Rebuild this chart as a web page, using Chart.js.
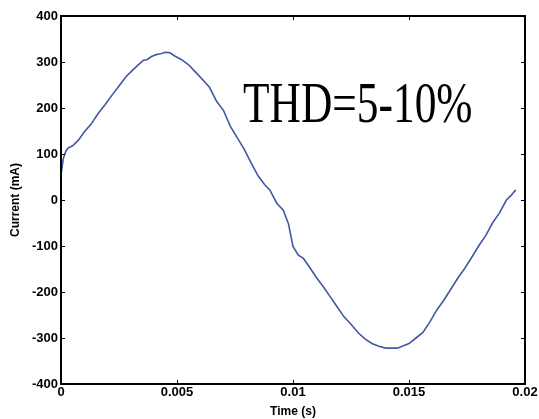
<!DOCTYPE html>
<html>
<head>
<meta charset="utf-8">
<script src="https://cdn.jsdelivr.net/npm/chart.js@4/dist/chart.umd.min.js"></script>
<style>
  html, body { margin: 0; padding: 0; background: #fff; }
  #wrap { width: 539px; height: 419px; }
</style>
</head>
<body>
<div id="wrap"><canvas id="chart"></canvas></div>
<script>
// time (s) and current (mA)
const timeValues = [
  0.0000, 0.0001, 0.0002, 0.0003, 0.0005, 0.00075, 0.0010, 0.0013, 0.0016, 0.0019,
  0.0022, 0.0025, 0.0028, 0.0031, 0.0034, 0.00355, 0.0037, 0.0039, 0.0041, 0.0043,
  0.0045, 0.0047, 0.0049, 0.0052, 0.0055, 0.0058, 0.0061, 0.0064, 0.0067, 0.0070,
  0.0073, 0.0076, 0.0079, 0.0082, 0.0085, 0.0088, 0.0090, 0.0093, 0.00958, 0.0098,
  0.0100, 0.01023, 0.01045, 0.0107, 0.0110, 0.0113, 0.0116, 0.0119, 0.0122, 0.0125,
  0.0128, 0.0131, 0.0134, 0.0137, 0.0140, 0.0145, 0.0150, 0.0153, 0.0156, 0.0159,
  0.0162, 0.0165, 0.0168, 0.0171, 0.0174, 0.0177, 0.0180, 0.0183, 0.0186, 0.0189,
  0.0192, 0.0194, 0.0196
];
const currentValues = [
  55, 90, 105, 113, 118, 130, 148, 165, 188, 207,
  228, 248, 268, 283, 297, 304, 305, 312, 316, 318,
  321, 320, 313, 305, 294, 278, 262, 245, 215, 195,
  160, 135, 110, 80, 52, 32, 22, -7, -22, -51,
  -101, -120, -127, -145, -168, -188, -210, -232, -254, -270,
  -288, -302, -312, -318, -322, -322, -312, -300, -288, -265,
  -239, -218, -194, -170, -149, -125, -100, -78, -50, -28,
  0, 10, 22
];
const xTickValues = [0, 0.005, 0.01, 0.015, 0.02];
const xTickLabels = ['0', '0.005', '0.01', '0.015', '0.02'];
const yTickValues = [-400, -300, -200, -100, 0, 100, 200, 300, 400];
const annotationText = 'THD=5-10%';

const points = timeValues.map((t, i) => ({ x: t, y: currentValues[i] }));

// box round the plot with inward ticks on all four sides
const boxPlugin = {
    id: 'box',
    afterDraw(chart) {
        const { ctx, chartArea: a, scales } = chart;
        ctx.save();
        ctx.strokeStyle = '#000';
        ctx.lineWidth = 1;
        scales.x.ticks.forEach(t => {
            const px = Math.round(scales.x.getPixelForValue(t.value)) + 0.5;
            ctx.beginPath();
            ctx.moveTo(px, a.bottom); ctx.lineTo(px, a.bottom - 4);
            ctx.moveTo(px, a.top); ctx.lineTo(px, a.top + 4);
            ctx.stroke();
        });
        scales.y.ticks.forEach(t => {
            const py = Math.round(scales.y.getPixelForValue(t.value)) + 0.5;
            ctx.beginPath();
            ctx.moveTo(a.left, py); ctx.lineTo(a.left + 4, py);
            ctx.moveTo(a.right, py); ctx.lineTo(a.right - 4, py);
            ctx.stroke();
        });
        ctx.lineWidth = 2;
        ctx.strokeRect(a.left, a.top, a.right - a.left, a.bottom - a.top);

        ctx.fillStyle = '#000';
        ctx.font = '43px "Liberation Serif", "Times New Roman", serif';
        ctx.textBaseline = 'alphabetic';
        ctx.translate(243, 122);
        ctx.scale(1.01, 1.33);
        ctx.fillText(annotationText, 0, 0);
        ctx.restore();
    }
};

const tickFont = { family: '"Liberation Sans", Arial, sans-serif', size: 13, weight: 'bold' };
const titleFont = { family: '"Liberation Sans", Arial, sans-serif', size: 12, weight: 'bold' };

new Chart(document.getElementById('chart'), {
    type: 'line',
    data: {
        datasets: [{
            data: points,
            borderColor: '#4257a6',
            borderWidth: 1.6,
            pointRadius: 0,
            tension: 0,
            fill: false,
        }],
    },
    options: {
        responsive: true,
        maintainAspectRatio: false,
        animation: false,
        layout: { padding: { top: 16, right: 14, left: 8, bottom: 0 } },
        plugins: { legend: { display: false }, tooltip: { enabled: false } },
        scales: {
            x: {
                type: 'linear',
                min: 0,
                max: 0.02,
                afterBuildTicks: scale => { scale.ticks = xTickValues.map(v => ({ value: v })); },
                afterFit: scale => { scale.height = 35; },
                grid: { display: false, drawTicks: false, tickLength: 0 },
                border: { display: false },
                ticks: {
                    color: '#000',
                    font: tickFont,
                    padding: 1,
                    maxRotation: 0,
                    autoSkip: false,
                    callback: (v, i) => xTickLabels[i],
                },
                title: { display: true, text: 'Time (s)', color: '#000', font: titleFont, padding: { top: 0, bottom: 0 } },
            },
            y: {
                min: -400,
                max: 400,
                afterBuildTicks: scale => { scale.ticks = yTickValues.map(v => ({ value: v })); },
                afterFit: scale => { scale.width = 53; },
                grid: { display: false, drawTicks: false, tickLength: 0 },
                border: { display: false },
                ticks: { color: '#000', font: tickFont, padding: 3 },
                title: { display: true, text: 'Current (mA)', color: '#000', font: titleFont, padding: { top: 0, bottom: 2 } },
            },
        },
    },
    plugins: [boxPlugin],
});
</script>
</body>
</html>
